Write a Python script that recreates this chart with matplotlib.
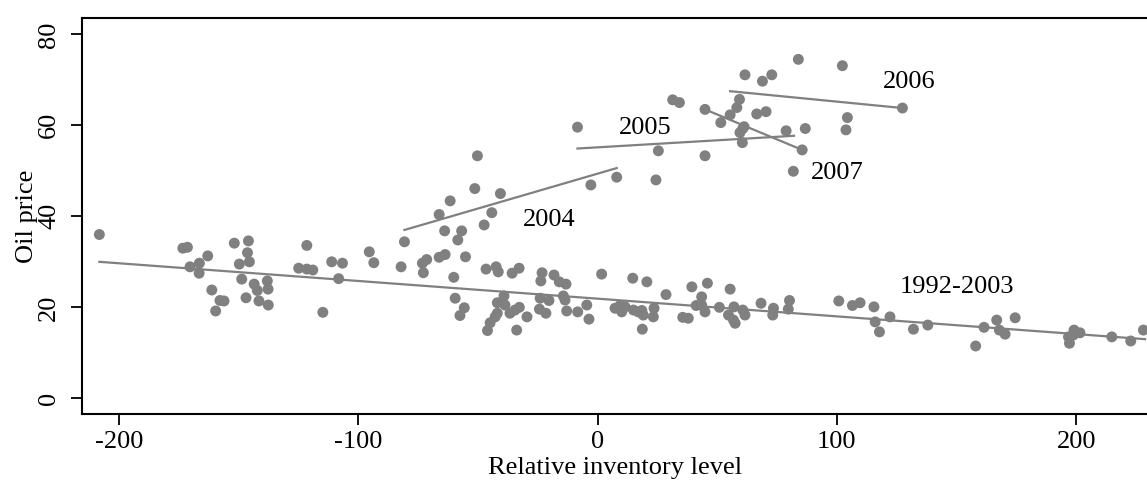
import numpy as np
import matplotlib
matplotlib.use("Agg")
import matplotlib.pyplot as plt

plt.rcParams['font.family'] = ['Liberation Serif', 'DejaVu Serif']
plt.rcParams['axes.unicode_minus'] = False

# relative inventory level / oil price
inv = [-208.2, -173.3, -171.4, -162.9, -166.4, -170.3, -166.5, -161.2, -157.8, -156.1,
       -159.6, -151.8, -145.9, -146.3, -145.5, -149.7, -148.7, -143.5, -142.2, -138.0,
       -137.7, -146.9, -141.5, -137.6, -121.5, -124.9, -121.5, -119.0, -114.8, -111.1,
       -106.6, -108.2,
       -95.4, -93.5, -82.1, -73.2, -71.4, -72.8, -66.2, -63.7, -55.2, -60.1,
       -59.5, -55.7, -57.5, -46.6, -42.4, -41.5, -35.7, -32.8, -39.1, -41.9,
       -38.7, -41.9, -42.8, -44.9, -46.0, -33.8, -36.6, -34.5, -32.7, -29.5,
       -23.2, -23.7, -18.2, -16.0, -13.2, -24.0, -20.3, -24.3, -21.6, -14.3,
       -13.6, -12.9, -8.3, -4.5, -3.6, 1.7,
       7.3, 9.4, 11.5, 10.1, 14.7, 20.6, 15.0, 17.0, 19.1, 18.5,
       18.7, 23.6, 23.3, 28.6, 35.6, 37.9, 39.4, 45.9, 43.5, 41.2,
       43.5, 44.9, 50.9, 55.4, 57.0, 60.7, 61.6, 54.7, 56.8, 57.5,
       68.3, 73.5, 73.2, 80.2, 79.7, 100.8, 106.5, 109.7,
       115.5, 116.0, 117.8, 122.2, 132.0, 138.0, 158.0, 161.5, 166.8, 167.9,
       170.3, 174.5, 197.2, 196.8, 199.1, 201.6, 198.8, 214.9, 222.8, 228.1,
       # 2004-2007
       -80.7, -63.9, -56.8, -47.4, -58.4, -66.2, -44.2, -61.6, -40.6, -51.3,
       -50.2, -2.8, 8.0,
       -8.4, 24.4, 25.4, 44.9, 31.4, 34.2, 44.9, 51.5, 55.4, 59.3, 58.2,
       61.6, 68.9, 72.8, 83.9, 102.3, 66.5, 70.4, 60.7, 59.5, 60.5, 61.2,
       78.8, 86.8, 85.5, 81.8, 104.4, 103.8, 127.4]
price = [36.0, 33.0, 33.2, 31.3, 29.7, 28.9, 27.5, 23.8, 21.5, 21.4,
         19.2, 34.1, 34.6, 32.0, 30.0, 29.5, 26.2, 25.1, 23.7, 25.8,
         24.0, 22.1, 21.4, 20.5, 33.6, 28.6, 28.4, 28.2, 18.9, 30.0,
         29.7, 26.3,
         32.2, 29.8, 28.9, 29.7, 30.5, 27.6, 31.0, 31.6, 31.1, 26.6,
         22.0, 19.9, 18.2, 28.4, 28.9, 27.8, 27.5, 28.6, 22.5, 21.0,
         20.5, 18.7, 17.9, 16.6, 14.9, 15.0, 18.7, 19.4, 20.0, 17.9,
         27.6, 25.8, 27.1, 25.6, 25.1, 22.0, 21.5, 19.6, 18.7, 22.5,
         21.6, 19.2, 19.0, 20.5, 17.4, 27.3,
         19.8, 20.4, 20.1, 19.0, 26.4, 25.6, 19.4, 19.0, 18.3, 19.3,
         15.2, 19.8, 17.9, 22.8, 17.8, 17.6, 24.5, 25.3, 22.3, 20.4,
         20.5, 19.0, 20.0, 24.0, 20.1, 19.4, 18.3, 18.3, 17.2, 16.5,
         20.9, 19.8, 18.3, 21.5, 19.6, 21.4, 20.4, 21.0,
         20.1, 16.8, 14.6, 17.9, 15.2, 16.1, 11.5, 15.6, 17.2, 15.0,
         14.1, 17.7, 12.1, 13.5, 15.0, 14.4, 13.9, 13.5, 12.6, 15.0,
         34.4, 36.8, 36.8, 38.1, 34.8, 40.4, 40.8, 43.4, 45.0, 46.1,
         53.3, 46.9, 48.6,
         59.6, 48.0, 54.4, 53.3, 65.6, 65.0, 63.5, 60.6, 62.3, 65.7, 63.9,
         71.1, 69.7, 71.1, 74.5, 73.1, 62.5, 63.0, 59.3, 58.4, 56.2, 59.7,
         58.8, 59.3, 54.6, 49.9, 61.7, 59.0, 63.8]

# fitted lines per period (end points)
fit_labels = ['1992-2003', '2004', '2005', '2006', '2007']
fit_x = [[-208.2, 228.8], [-80.7, 8.0], [-8.4, 82.1], [55.4, 127.4], [44.9, 85.5]]
fit_y = [[30.0, 13.0], [37.0, 50.6], [54.9, 57.7], [67.5, 63.8], [63.5, 54.6]]
label_x = [150.1, -20.1, 19.8, 130.2, 100.0]
label_y = [24.5, 39.3, 59.5, 69.6, 49.6]

grey = '#808080'
fig = plt.figure(figsize=(11.47, 4.84), dpi=100)
ax = fig.add_axes([0.0718, 0.1446, 0.9282, 0.8188])

ax.scatter(inv, price, s=62, color=grey, edgecolors='none', zorder=3)
for fx, fy in zip(fit_x, fit_y):
    ax.plot(fx, fy, color=grey, lw=1.6, zorder=2)
for lab, lx, ly in zip(fit_labels, label_x, label_y):
    ax.text(lx, ly, lab, fontsize=19, ha='center', va='center')

ax.set_xlim(-215.3, 229.6)
ax.set_ylim(-3.45, 83.65)
ax.set_xticks([-200, -100, 0, 100, 200])
ax.set_yticks([0, 20, 40, 60, 80])
ax.tick_params(labelsize=19, width=1.3, length=8, direction='out')
ax.tick_params(axis='x', pad=4)
ax.tick_params(axis='y', pad=8)
for lab in ax.get_yticklabels():
    lab.set_rotation(90)
    lab.set_va('center')
ax.spines['right'].set_visible(False)
for s in ['left', 'bottom', 'top']:
    ax.spines[s].set_linewidth(1.5)
ax.set_xlabel('Relative inventory level', fontsize=19, labelpad=3)
ax.set_ylabel('Oil price', fontsize=19, labelpad=0)

fig.savefig('out.png', dpi=100)
